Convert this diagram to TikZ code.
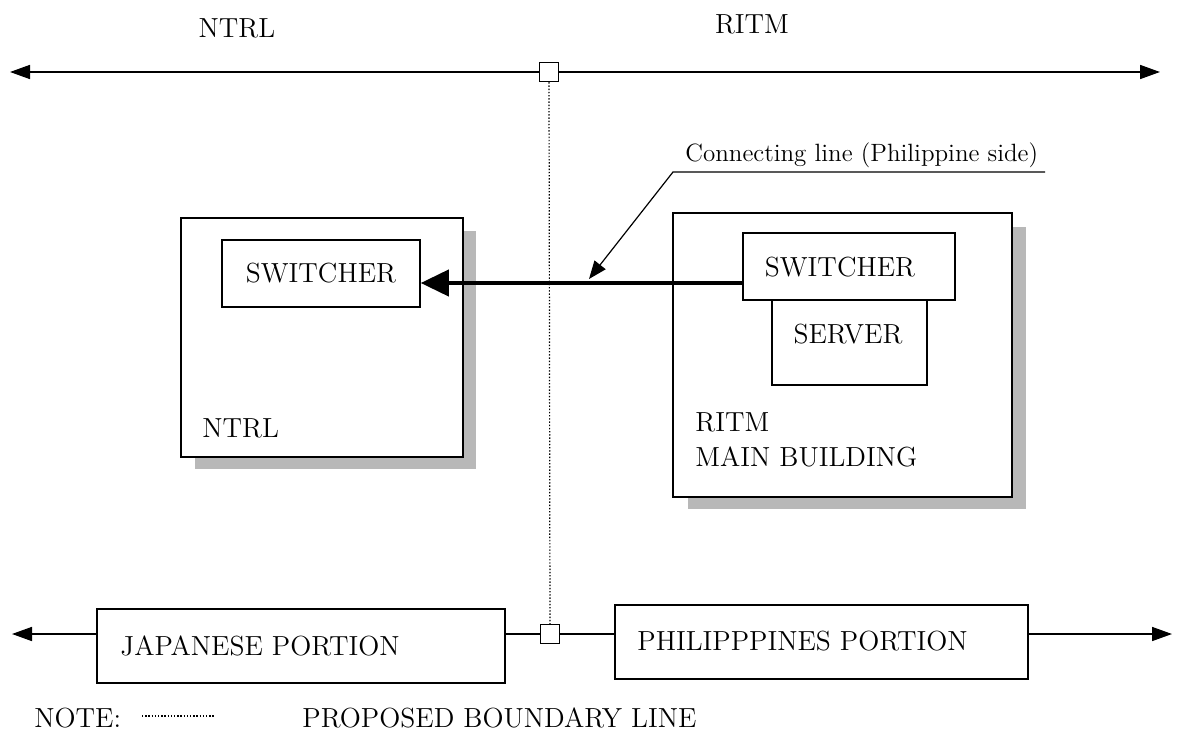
\documentclass[tikz,border=0pt]{standalone}
\usetikzlibrary{arrows.meta}
\begin{document}
\begin{tikzpicture}[x=0.5pt,y=-0.5pt,
  txt/.style={font=\fontsize{13.8}{16}\selectfont, inner sep=0pt},
  bx/.style={draw, line width=0.75pt, fill=white, inner sep=0pt, font=\fontsize{13.8}{16}\selectfont},
  sqbox/.style={draw, line width=0.75pt, fill=white, minimum size=9.5pt, inner sep=0pt},
  shadowfill/.style={fill=black!28, draw=none},
  mainline/.style={line width=0.8pt, -{Triangle[length=10pt,width=7pt]}},
  plainline/.style={line width=0.8pt},
  boundary/.style={line width=0.6pt, dash pattern=on 0.7pt off 0.9pt},
]
\useasboundingbox (0,0) rectangle (1183,738);
% shadows
\fill[shadowfill] (195,231) rectangle (476,469);
\fill[shadowfill] (688,227) rectangle (1026,509);
% left building
\node[bx, minimum width=141pt, minimum height=119.5pt] (ntrlbox) at (322,337.5) {};
\node[bx, minimum width=99pt, minimum height=33.5pt] (sw1) at (321,273.5) {SWITCHER};
\node[txt, anchor=west] (ntrllbl) at (202,428) {NTRL};
% right building
\node[bx, minimum width=169.5pt, minimum height=142pt] (ritmbox) at (842.5,355) {};
\node[bx, minimum width=77.5pt, minimum height=42.5pt] (server) at (849.5,342.5) {};
\node[txt] (servertxt) at (848,334) {SERVER};
\node[bx, minimum width=106pt, minimum height=33.5pt] (sw2) at (849,266.5) {};
\node[txt] (sw2txt) at (840,267) {SWITCHER};
\node[txt, anchor=west] (ritmlbl) at (695,422) {RITM};
\node[txt, anchor=west] (mainlbl) at (695,457) {MAIN BUILDING};
% top line
\node[txt] (ntrltop) at (237,28) {NTRL};
\node[txt] (ritmtop) at (752,24) {RITM};
\node[sqbox] (sqtop) at (549,72) {};
\coordinate (tl) at (10,72);
\coordinate (tr) at (1160,72);
\draw[mainline] (sqtop.west) -- (tl);
\draw[mainline] (sqtop.east) -- (tr);
% bottom line
\node[bx, minimum width=204pt, minimum height=37pt] (japbox) at (301,646) {};
\node[bx, minimum width=206.5pt, minimum height=37pt] (phbox) at (821.5,642) {};
\node[txt, anchor=west] (japtxt) at (120,646) {JAPANESE PORTION};
\node[txt, anchor=west] (phtxt) at (637,641) {PHILIPPPINES PORTION};
\node[sqbox] (sqbot) at (550,634) {};
\coordinate (bl) at (12,634);
\coordinate (br) at (1172,634);
\draw[mainline] (japbox.west |- sqbot) -- (bl);
\draw[plainline] (sqbot.west) -- (sqbot -| japbox.east);
\draw[plainline] (sqbot.east) -- (sqbot -| phbox.west);
\draw[mainline] (phbox.east |- sqbot) -- (br);
% boundary
\draw[boundary] (sqtop.south) -- (sqbot.north);
% connecting line
\coordinate (ay) at (0,283);
\draw[line width=2pt, -{Triangle[length=14pt,width=13pt]}] (sw2.west |- ay) -- (sw1.east |- ay);
\node[font=\fontsize{12.5}{14}\selectfont, inner sep=0pt, anchor=base west] (conn) at (685,162) {Connecting line (Philippine side)};
\coordinate (lr) at (1045,172);
\coordinate (ll) at (673,172);
\coordinate (lt) at (589,279);
\draw[line width=0.6pt, -{Triangle[length=9pt,width=7pt]}] (lr) -- (ll) -- (lt);
% legend
\node[txt, anchor=west] (note) at (34,718) {NOTE:};
\coordinate (d1) at (142,716);
\coordinate (d2) at (214,716);
\draw[boundary] (d1) -- (d2);
\node[txt, anchor=west] (prop) at (302,718) {PROPOSED BOUNDARY LINE};
\end{tikzpicture}
\end{document}
